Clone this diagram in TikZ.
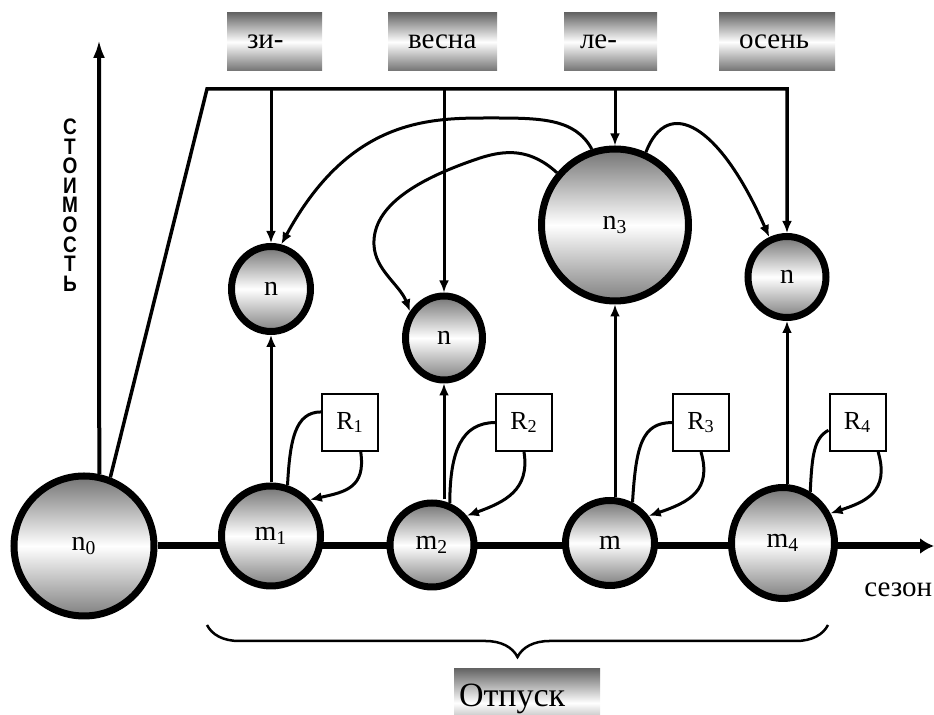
\documentclass[tikz,border=0pt]{standalone}
\usepackage{graphicx}
\usepackage{fontspec}
\setmainfont{Liberation Serif}
\setsansfont{Liberation Sans}
\usetikzlibrary{shapes.geometric, arrows.meta, decorations.pathreplacing}

\begin{document}
\begin{tikzpicture}[x=0.5pt, y=-0.5pt,
    state/.style={ellipse, draw, line width=3.5pt, inner sep=0pt,
                  top color=black!55, bottom color=black!50, middle color=white,
                  font=\fontsize{14}{16}\selectfont},
    banner/.style={inner ysep=0pt, align=left,
                   top color=black!60, bottom color=black!55, middle color=white,
                   font=\fontsize{14.5}{17}\selectfont},
    rbox/.style={draw, line width=1pt, fill=white, inner sep=0pt,
                 minimum width=28pt, minimum height=28.5pt,
                 font=\fontsize{13}{15}\selectfont},
    link/.style={line width=1.5pt, -{Latex[length=6pt, width=5pt]}},
    feed/.style={line width=1.5pt}]

    % Page frame
    \path[use as bounding box, clip] (0,0) rectangle (934,715);

    % Start state with the cost axis and the season axis
    \node[state, minimum width=70pt, minimum height=70pt] (n0) at (84,546) {n\textsubscript{0}};
    \coordinate (costtop) at (99,40);
    \coordinate (seasonend) at (934,546);
    \draw[line width=2pt, -{Latex[length=9pt, width=6pt]}] (n0.78) -- (costtop);
    \draw[line width=3.5pt, -{Latex[length=7pt, width=8pt]}] (n0.east) -- (seasonend);
    \node[font=\sffamily\bfseries\fontsize{11.2}{9.8}\selectfont, inner sep=0pt] (cost) at (70,205)
        {\scalebox{0.85}[1]{\parbox{14pt}{\centering С\\Т\\О\\И\\М\\О\\С\\Т\\Ь}}};

    % Season states on the axis
    \node[state, minimum width=49.5pt, minimum height=50pt] (m1) at (271,536) {m\textsubscript{1}};
    \node[state, minimum width=42pt, minimum height=42pt] (m2) at (432,545) {m\textsubscript{2}};
    \node[state, minimum width=44.5pt, minimum height=42.5pt] (m3) at (610,543) {m};
    \node[state, minimum width=51.5pt, minimum height=55.5pt] (m4) at (783,543) {m\textsubscript{4}};

    % Upper states
    \node[state, minimum width=39.5pt, minimum height=42.5pt] (n1) at (271,289) {n};
    \node[state, minimum width=38.5pt, minimum height=42pt] (n2) at (444,338) {n};
    \node[state, minimum width=73.5pt, minimum height=76pt] (n3) at (615,225) {n\textsubscript{3}};
    \node[state, minimum width=39pt, minimum height=40.5pt] (n4) at (787,277) {n};

    % Season banners
    \node[banner, inner xsep=10pt, minimum height=29pt, text width=27.5pt] (winter) at (274.5,42) {зи-};
    \node[banner, inner xsep=10pt, minimum height=29pt, text width=34.5pt] (spring) at (442.5,42) {весна};
    \node[banner, inner xsep=8pt, minimum height=29pt, text width=30.5pt] (summer) at (610.5,42) {ле-};
    \node[banner, inner xsep=10pt, minimum height=29pt, text width=38pt] (autumn) at (777,42) {осень};

    % R boxes
    \node[rbox] (r1) at (350,422.5) {R\textsubscript{1}};
    \node[rbox] (r2) at (524,422.5) {R\textsubscript{2}};
    \node[rbox] (r3) at (701,422.5) {R\textsubscript{3}};
    \node[rbox] (r4) at (857.5,422.5) {R\textsubscript{4}};

    % Bracket from n0 over the upper states
    \coordinate (topleft) at (207,89);
    \draw[link, line width=1.75pt] (n0.69) -- (topleft) -- (topleft -| n4) -- (n4);
    \foreach \n in {n1, n2, n3}
        \draw[link] (topleft -| \n) -- (\n);

    % Upward transitions
    \foreach \m/\n in {m1/n1, m2/n2, m3/n3, m4/n4}
        \draw[link] (\n |- \m.north) -- (\n);

    % Curves leaving n3
    \draw[link] (n3.107) .. controls (575,118) and (540,118) .. (490,118)
                         .. controls (430,118) and (350,118) .. (n1.77);
    \draw[link] (n3.138) .. controls (530,148) and (505,150) .. (480,158)
                         .. controls (420,178) and (372,205) .. (374,245)
                         .. controls (375,270) and (400,285) .. (n2.142);
    \draw[link] (n3.67) .. controls (668,95) and (720,125) .. (n4.114);

    % R loops
    \draw[feed] (m1.72) .. controls (290,440) and (295,412) .. (r1.160);
    \draw[link] (r1.290) .. controls (366,488) and (345,492) .. (m1.43);
    \draw[feed] (m2.67) .. controls (450,450) and (462,423) .. (r2.west);
    \draw[link] (r2.south) .. controls (530,490) and (505,502) .. (m2.40);
    \draw[feed] (m3.61) .. controls (636,445) and (642,423) .. (r3.west);
    \draw[link] (r3.south) .. controls (712,490) and (690,502) .. (m3.35);
    \draw[feed] (m4.62) .. controls (812,455) and (814,438) .. (r4.195);
    \draw[link] (r4.305) .. controls (890,492) and (865,502) .. (m4.32);

    % Brace under the seasons
    \draw[line width=1.25pt, decorate, decoration={brace, mirror, amplitude=16pt}] (207,625) -- (828,625);
    \node[banner, inner xsep=2.5pt, minimum height=34pt, text width=68pt, text depth=8pt,
          font=\fontsize{17}{20}\selectfont] (vacation) at (527,703) {Отпуск};
    \node[anchor=base west, inner sep=0pt, font=\fontsize{14.5}{17}\selectfont]
        (seasonlabel) at (864,597) {сезон};

\end{tikzpicture}
\end{document}
